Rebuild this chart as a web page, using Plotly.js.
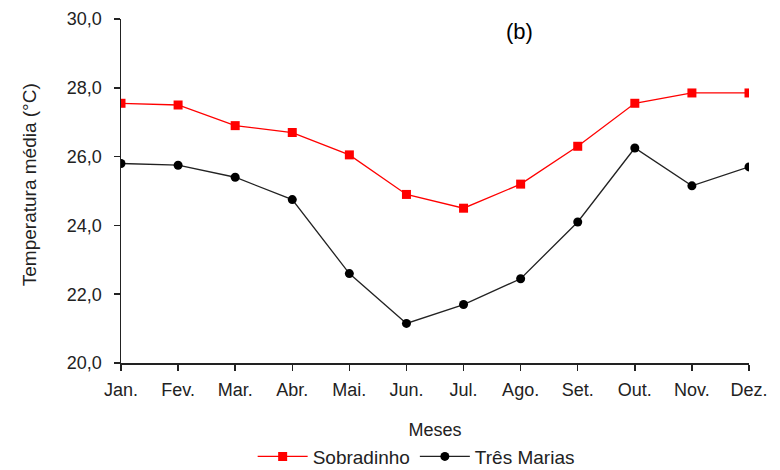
<!DOCTYPE html>
<html>
<head>
<meta charset="utf-8">
<script src="https://cdn.plot.ly/plotly-3.0.1.min.js"></script>
<style>html,body{margin:0;padding:0;background:#fff;}#chart{width:780px;height:470px;}</style>
</head>
<body>
<div id="chart"></div>
<script>
const months = ["Jan.", "Fev.", "Mar.", "Abr.", "Mai.", "Jun.", "Jul.", "Ago.", "Set.", "Out.", "Nov.", "Dez."];
const sobradinho = [27.55, 27.5, 26.9, 26.7, 26.05, 24.9, 24.5, 25.2, 26.3, 27.55, 27.85, 27.85];
const tresMarias = [25.8, 25.75, 25.4, 24.75, 22.6, 21.15, 21.7, 22.45, 24.1, 26.25, 25.15, 25.7];
const yTicks = [20, 22, 24, 26, 28, 30];

const font = "Liberation Sans, Arial, sans-serif";
const traces = [
  {x: months, y: sobradinho, name: "Sobradinho", type: "scatter", mode: "lines+markers",
   line: {color: "#ff0000", width: 1.3}, marker: {symbol: "square", size: 9, color: "#ff0000"}},
  {x: months, y: tresMarias, name: "Três Marias", type: "scatter", mode: "lines+markers",
   line: {color: "#222222", width: 1.3}, marker: {symbol: "circle", size: 9, color: "#000000"}}
];
const layout = {
  width: 780, height: 470,
  margin: {l: 121, r: 31, t: 19, b: 107, autoexpand: false},
  paper_bgcolor: "#fff", plot_bgcolor: "#fff",
  separators: ",.",
  font: {family: font, size: 18, color: "#222"},
  showlegend: true,
  legend: {orientation: "h", x: 0.47, xanchor: "center", y: -0.272, yanchor: "middle",
           font: {size: 19, color: "#222"}, itemwidth: 50, tracegroupgap: 0},
  xaxis: {
    type: "category", range: [0, 11], showgrid: false, zeroline: false, automargin: false,
    showline: true, linecolor: "#222", linewidth: 1.5,
    ticks: "outside", ticklen: 6, tickcolor: "#222", tickwidth: 1.5, ticklabelstandoff: 4,
    tickfont: {size: 18, color: "#222"},
    title: {text: "Meses", font: {size: 18, color: "#222"}, standoff: 24}
  },
  yaxis: {
    range: [20, 30], tickvals: yTicks, tickformat: ".1f", showgrid: false, zeroline: false, automargin: false,
    showline: true, linecolor: "#222", linewidth: 1.5,
    ticks: "outside", ticklen: 6, tickcolor: "#222", tickwidth: 1.5, ticklabelstandoff: 8,
    tickfont: {size: 18, color: "#222"}
  },
  annotations: [
    {text: "(b)", xref: "paper", yref: "paper", x: (519.5 - 121) / 628, y: (363.3 - 32) / 344,
     showarrow: false, font: {size: 22, color: "#000"}, xanchor: "center", yanchor: "middle"},
    {text: "Temperatura média (°C)", xref: "paper", yref: "paper", x: (29 - 121) / 628, y: (363.3 - 185.5) / 344,
     textangle: -90, showarrow: false, font: {size: 19, color: "#222"}, xanchor: "center", yanchor: "middle"}
  ]
};
Plotly.newPlot("chart", traces, layout, {displayModeBar: false, staticPlot: true});
</script>
</body>
</html>
